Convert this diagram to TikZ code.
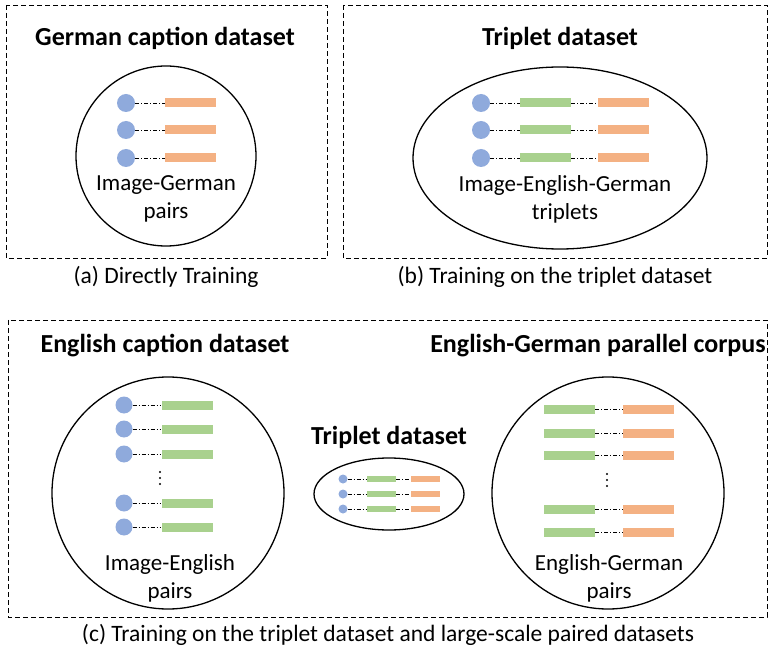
\documentclass[tikz,border=0pt]{standalone}
\usepackage{fontspec}
\setmainfont{Carlito}
\usetikzlibrary{calc}
\definecolor{imgblue}{HTML}{8FAADC}
\definecolor{engreen}{HTML}{A9D18E}
\definecolor{deorange}{HTML}{F4B183}
\tikzset{
  panel/.style={draw, dashed, dash pattern=on 5pt off 3pt, line width=0.9pt},
  title/.style={font=\fontsize{26}{30}\selectfont\bfseries, inner sep=0pt},
  caption/.style={font=\fontsize{23.5}{27}\selectfont, inner sep=0pt},
  label/.style={font=\fontsize{23}{28}\selectfont, align=center, inner sep=0pt},
  pool/.style={draw, line width=1.3pt},
  imgdot/.style={circle, fill=imgblue, draw=none, minimum size=18pt, inner sep=0pt},
  endbar/.style={rectangle, fill=engreen, draw=none, minimum width=51pt, minimum height=9pt, inner sep=0pt},
  debar/.style={rectangle, fill=deorange, draw=none, minimum width=51pt, minimum height=9pt, inner sep=0pt},
  smalldot/.style={imgdot, minimum size=9pt},
  smallen/.style={endbar, minimum width=29pt, minimum height=6pt},
  smallde/.style={debar, minimum width=29pt, minimum height=6pt},
  link/.style={line width=0.8pt, dash pattern=on 4pt off 2pt on 1pt off 2pt},
  ellipsisdot/.style={circle, fill=black, minimum size=2.4pt, inner sep=0pt},
}
\begin{document}
\begin{tikzpicture}[x=1pt, y=-1pt]
\useasboundingbox (0,0) rectangle (771,652);

% ---------- (a) directly training ----------
\draw[panel] (6,5) rectangle (327,258);
\node[title] (ta) at (165,38) {German caption dataset};
\draw[pool] (166,156) circle (90);
\foreach \i/\y in {1/103,2/130,3/158}{
  \node[imgdot] (a\i) at (126,\y) {};
  \node[debar] (ade\i) at (190.5,\y) {};
  \draw[link] (a\i) -- (ade\i);
}
\node[label] (la) at (166,199) {Image-German\\pairs};
\node[caption] (ca) at (166,277) {(a) Directly Training};

% ---------- (b) triplet dataset ----------
\draw[panel] (343,5) rectangle (767,258);
\node[title] (tb) at (560,38) {Triplet dataset};
\draw[pool] (560,158) ellipse (147 and 91);
\foreach \i/\y in {1/103,2/130,3/158}{
  \node[imgdot] (b\i) at (481,\y) {};
  \node[endbar] (ben\i) at (545.5,\y) {};
  \node[debar] (bde\i) at (623.5,\y) {};
  \draw[link] (b\i) -- (ben\i);
  \draw[link] (ben\i) -- (bde\i);
}
\node[label] (lb) at (565,199) {Image-English-German\\triplets};
\node[caption] (cb) at (555,277) {(b) Training on the triplet dataset};

% ---------- (c) triplets plus large paired data ----------
\draw[panel] (8,320) rectangle (767,617);
\node[title] (tc1) at (165,346) {English caption dataset};
\node[title] (tc2) at (598,346) {English-German parallel corpus};
\node[title] (tc3) at (389,437) {Triplet dataset};

% image-English pairs
\draw[pool] (168,493) circle (116);
\foreach \i/\y in {1/405,2/429,3/454,4/503,5/527}{
  \node[imgdot, minimum size=17pt] (c\i) at (124,\y) {};
  \node[endbar] (cen\i) at (187,\y) {};
  \draw[link] (c\i) -- (cen\i);
}
\foreach \y in {472,478,484}{ \node[ellipsisdot] at (160,\y) {}; }
\node[label] (lc1) at (170,578) {Image-English\\pairs};

% small triplet set
\draw[pool] (389,494) ellipse (75 and 36);
\foreach \i/\y in {1/479,2/494,3/509}{
  \node[smalldot] (m\i) at (343,\y) {};
  \node[smallen] (men\i) at (381.5,\y) {};
  \node[smallde] (mde\i) at (425.5,\y) {};
  \draw[link] (m\i) -- (men\i);
  \draw[link] (men\i) -- (mde\i);
}

% English-German pairs
\draw[pool] (608,493) circle (116);
\foreach \i/\y in {1/409,2/433,3/455,4/509,5/532}{
  \node[endbar] (pen\i) at (569.5,\y) {};
  \node[debar] (pde\i) at (648.5,\y) {};
  \draw[link] (pen\i) -- (pde\i);
}
\foreach \y in {474,480,486}{ \node[ellipsisdot] at (607,\y) {}; }
\node[label] (lc2) at (609,578) {English-German\\pairs};

\node[caption] (cc) at (388,635) {(c) Training on the triplet dataset and large-scale paired datasets};
\end{tikzpicture}
\end{document}
